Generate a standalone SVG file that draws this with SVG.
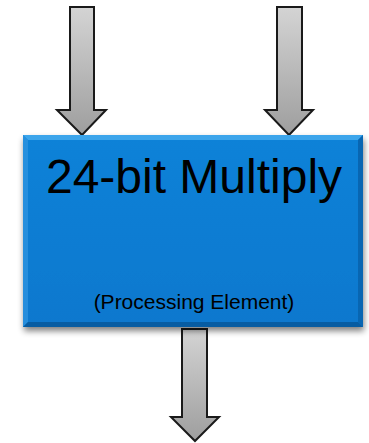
<svg xmlns="http://www.w3.org/2000/svg" width="369" height="443" viewBox="0 0 369 443">
  <defs>
    <linearGradient id="arrowFill" x1="0" y1="0" x2="0" y2="1">
      <stop offset="0" stop-color="#d4d4d4"/>
      <stop offset="1" stop-color="#9e9e9e"/>
    </linearGradient>
    <linearGradient id="boxFill" x1="0" y1="0" x2="0" y2="1">
      <stop offset="0" stop-color="#0f82d8"/>
      <stop offset="1" stop-color="#0a78ce"/>
    </linearGradient>
    <filter id="shadow" x="-10%" y="-10%" width="120%" height="130%">
      <feGaussianBlur in="SourceAlpha" stdDeviation="3"/>
      <feOffset dx="1" dy="4"/>
      <feComponentTransfer><feFuncA type="linear" slope="0.5"/></feComponentTransfer>
      <feMerge><feMergeNode/><feMergeNode in="SourceGraphic"/></feMerge>
    </filter>
  </defs>
  <style>
    .arrow { fill: url(#arrowFill); stroke: #1a1a1a; stroke-width: 2; stroke-linejoin: miter; }
    .title { font-family: "Liberation Sans", Arial, sans-serif; font-size: 48px; fill: #000; }
    .sub { font-family: "Liberation Sans", Arial, sans-serif; font-size: 21px; fill: #000; }
  </style>
  <rect width="369" height="443" fill="#ffffff"/>

  <g id="connectors">
    <path class="arrow" d="M70,7 H94 V110 H106 L82,135 L57,110 H70 Z"/>
    <path class="arrow" d="M277,7 H302 V110 H313 L289,135 L265,110 H277 Z"/>
    <path class="arrow" d="M182,329 H207 V417 H219 L195,441 L171,417 H182 Z"/>
  </g>

  <g id="multiplier">
    <rect x="23" y="135" width="340" height="192" fill="url(#boxFill)" filter="url(#shadow)"/>
    <!-- bevel highlight and shade -->
    <path d="M23,135 H363 L358,140 H28 Z" fill="#45acee" opacity="0.85"/>
    <path d="M23,135 L28,140 V322 L23,327 Z" fill="#2e93e0" opacity="0.8"/>
    <path d="M363,135 L358,140 V322 L363,327 Z" fill="#0866b2"/>
    <path d="M23,327 L28,322 H358 L363,327 Z" fill="#075ca2"/>
    <text class="title" x="194" y="193" text-anchor="middle">24-bit Multiply</text>
    <text class="sub" x="194" y="309" text-anchor="middle">(Processing Element)</text>
  </g>
</svg>
